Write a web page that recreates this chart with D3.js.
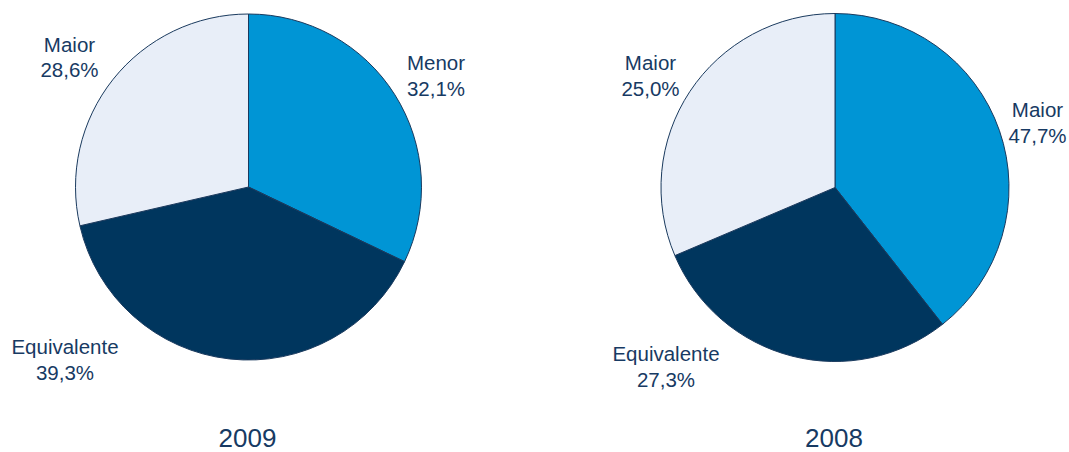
<!DOCTYPE html>
<html>
<head>
<meta charset="utf-8">
<script src="https://cdn.jsdelivr.net/npm/d3@7"></script>
<style>
  body { margin: 0; background: #fff; }
  svg { display: block; }
  text { font-family: "Liberation Sans", Arial, sans-serif; fill: #173a63; }
</style>
</head>
<body>
<div id="chart"></div>
<script>
// slice shares as drawn in the picture (clockwise from 12 o'clock)
var categories2009 = ["Menor", "Equivalente", "Maior"];
var values2009 = [32.1, 39.3, 28.6];
var labels2009 = ["32,1%", "39,3%", "28,6%"];

var categories2008 = ["Maior", "Equivalente", "Maior"];
var values2008 = [39.4, 29.2, 31.4];
var labels2008 = ["47,7%", "27,3%", "25,0%"];

var sliceColors = ["#0095d5", "#00365e", "#e8eef8"];

var width = 1069, height = 452;

var svg = d3.select("#chart").append("svg")
    .attr("width", width)
    .attr("height", height);

// one pie per year
var pies = [
    { year: "2009", cats: categories2009, vals: values2009, labs: labels2009,
      cx: 248.5, cy: 187, r: 173,
      labelPos: [[436, 70], [65, 354], [69.5, 51.5]] },
    { year: "2008", cats: categories2008, vals: values2008, labs: labels2008,
      cx: 835, cy: 187.5, r: 174,
      labelPos: [[1037.5, 117], [666, 361], [650.5, 70]] }
];

var pie = d3.pie().sort(null).value(function(d) { return d; });

pies.forEach(function(p) {
    var arc = d3.arc().innerRadius(0).outerRadius(p.r);
    var g = svg.append("g")
        .attr("transform", "translate(" + p.cx + "," + p.cy + ")");

    g.selectAll("path").data(pie(p.vals)).enter()
        .append("path")
        .attr("d", arc)
        .style("fill", function(d, i) { return sliceColors[i]; })
        .style("stroke", "#1a3a5e")
        .style("stroke-width", 1);

    // category + percent labels
    var lab = svg.append("g");
    p.cats.forEach(function(c, i) {
        var t = lab.append("text")
            .attr("text-anchor", "middle")
            .attr("x", p.labelPos[i][0])
            .attr("y", p.labelPos[i][1])
            .style("font-size", "20.5px");
        t.append("tspan").attr("x", p.labelPos[i][0]).text(c);
        t.append("tspan").attr("x", p.labelPos[i][0]).attr("dy", 25.7).text(p.labs[i]);
    });

    svg.append("text")
        .attr("text-anchor", "middle")
        .attr("x", p.cx - 1)
        .attr("y", 446.5)
        .style("font-size", "26px")
        .text(p.year);
});
</script>
</body>
</html>
